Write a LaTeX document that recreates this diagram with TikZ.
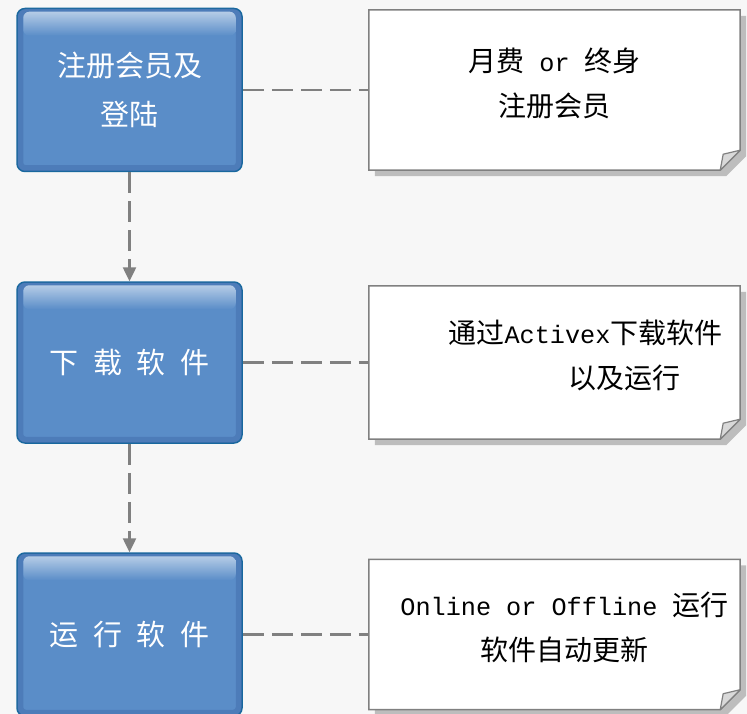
\documentclass[tikz,border=0pt]{standalone}
\usepackage{fontspec}
\usetikzlibrary{arrows.meta,backgrounds,positioning}
\newfontfamily\cjk{Noto Sans CJK SC}
\newfontfamily\latmono[Scale=0.9]{Liberation Mono}
\definecolor{pagegray}{HTML}{F7F7F7}
\definecolor{boxblue}{HTML}{5A8DC8}
\definecolor{boxedge}{HTML}{3E68A8}
\definecolor{boxline}{HTML}{17689E}
\definecolor{linegray}{HTML}{808080}
\definecolor{shadowgray}{HTML}{BDBDBD}
\definecolor{flapgray}{HTML}{D9D9D9}
\tikzset{%
	stepbox/.style  = {rectangle, rounded corners=8pt, draw=boxline, line width=1.5pt, fill=boxblue, minimum width=225pt, minimum height=163pt, text=white, font=\cjk\fontsize{29}{49}\selectfont, align=center},
	rim/.style      = {draw=boxedge, line width=6pt, rounded corners=5pt, opacity=0.45},
	gloss/.style    = {rounded corners=6pt, top color=boxblue!45!white, middle color=white!95!boxblue, bottom color=boxblue},
	notecard/.style = {rectangle, minimum width=371pt, font=\latmono\fontsize{28}{45}\selectfont, align=center},
	link/.style     = {draw=linegray, line width=2.5pt, dash pattern=on 21pt off 8pt},
	arrow/.style    = {link, -{Triangle[width=13pt,length=14pt]}},
}

\begin{document}
\begin{tikzpicture}[x=1pt,y=-1pt]
	\useasboundingbox (0,0) rectangle (747,714);
	
	\node[stepbox] (reg) at (129.5,90) {注册会员及\\登陆};
	\node[stepbox, minimum height=161pt] (dl) at (129.5,362.5) {下\enspace 载\enspace 软\enspace 件};
	\node[stepbox] (run) at (129.5,634.5) {运\enspace 行\enspace 软\enspace 件};
	
	% glossy top and darker rim
	\foreach \nm in {reg,dl,run} {
		\draw[rim] ([shift={(4,4)}]\nm.north west) rectangle ([shift={(-4,-4)}]\nm.south east);
		\shade[gloss] ([shift={(7,4)}]\nm.north west) rectangle ([shift={(-7,28)}]\nm.north east);
	}
	
	\node[notecard, minimum height=160pt] (fee) at (554.5,90) {{\cjk 月费} or {\cjk 终身}\\{\cjk 注册会员}\\[-29pt]};
	\node[notecard, minimum height=153pt] (ax) at (554.5,362.5) {\hspace*{62pt}{\cjk 通过}Activex{\cjk 下载软件}\\\hspace*{139pt}{\cjk 以及运行}\\[-29pt]};
	\node[notecard, minimum height=150pt] (upd) at (554.5,634.5) {\hspace*{20pt}Online or Offline {\cjk 运行}\\\hspace*{20pt}{\cjk 软件自动更新}\\[-29pt]};
	
	\draw[arrow] (reg) -- (dl);
	\draw[arrow] (dl) -- (run);
	\draw[link] (reg.east) -- (fee.west);
	\draw[link] (dl.east) -- (ax.west);
	\draw[link] (run.east) -- (upd.west);
	
	\begin{pgfonlayer}{background}
		\fill[pagegray] (0,0) rectangle (747,714);
		\foreach \nm in {fee,ax,upd} {
			\fill[shadowgray] ([shift={(6,6)}]\nm.north west) -- ([shift={(6,6)}]\nm.north east) -- ([shift={(6,-14)}]\nm.south east) -- ([shift={(-14,6)}]\nm.south east) -- ([shift={(6,6)}]\nm.south west) -- cycle;
			\filldraw[draw=linegray, fill=white, line width=1.5pt] (\nm.north west) -- (\nm.north east) -- ([shift={(0,-20)}]\nm.south east) -- ([shift={(-20,0)}]\nm.south east) -- (\nm.south west) -- cycle;
			\filldraw[draw=linegray, fill=flapgray, line width=1.2pt, line join=round] ([shift={(0,-20)}]\nm.south east) -- ([shift={(-17,-16)}]\nm.south east) -- ([shift={(-20,0)}]\nm.south east) -- cycle;
		}
	\end{pgfonlayer}
\end{tikzpicture}
\end{document}
